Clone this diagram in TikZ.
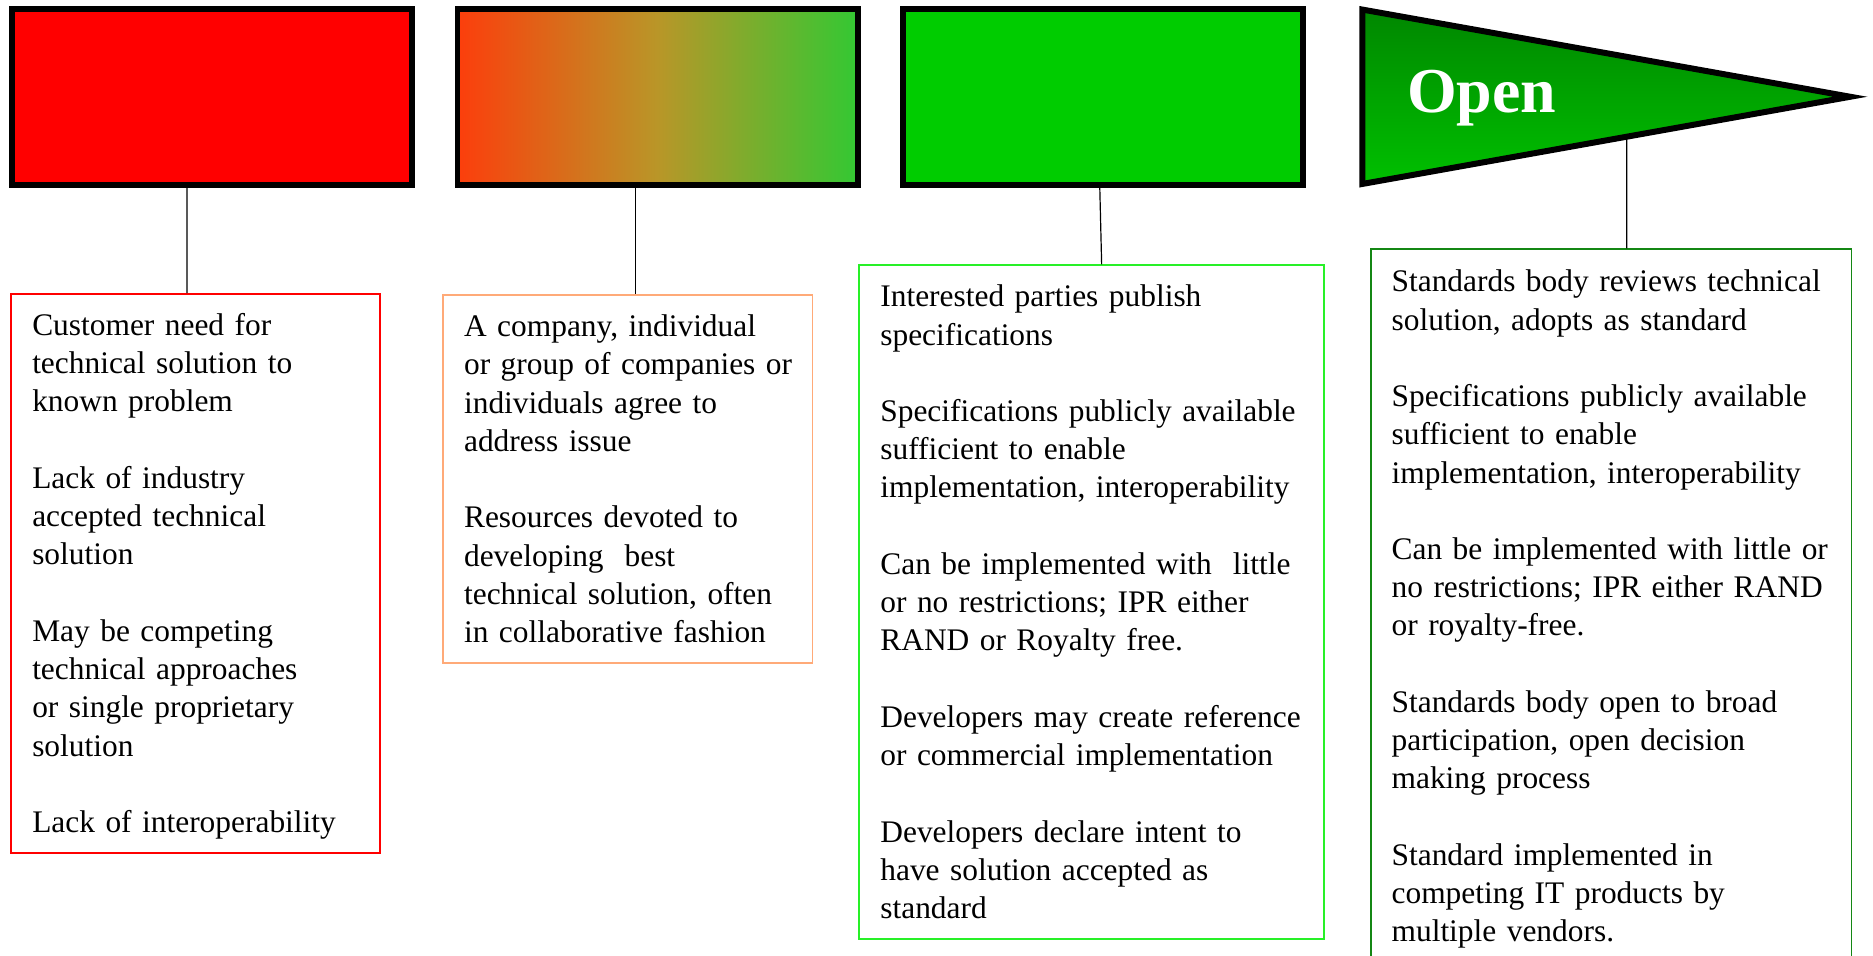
\documentclass[tikz,border=0pt]{standalone}
\usepackage{fontspec}
\setmainfont{Liberation Serif}
\usetikzlibrary{positioning}

\definecolor{stagered}{RGB}{255,0,0}
\definecolor{stageorange}{RGB}{252,62,12}
\definecolor{stagemid}{RGB}{185,150,40}
\definecolor{stagelime}{RGB}{51,200,51}
\definecolor{stagegreen}{RGB}{0,204,0}
\definecolor{flagtop}{RGB}{0,135,0}
\definecolor{flagbottom}{RGB}{0,192,0}
\definecolor{peach}{RGB}{255,170,120}
\definecolor{brightgreen}{RGB}{40,240,40}
\definecolor{forest}{RGB}{20,135,20}

\newcommand{\blankline}{\\[32pt]}

\begin{document}
\begin{tikzpicture}[x=1pt,y=-1pt,node distance=373pt,on grid]
  \tikzstyle{stage}=[draw=black,line width=5pt,minimum width=335pt,minimum height=147.5pt,inner sep=0pt]
  \tikzstyle{notes}=[draw,line width=1.2pt,align=left,inner xsep=17.5pt,inner ysep=0pt,
    font=\fontsize{26.3}{32}\selectfont,
    execute at begin node={\rightskip=0pt plus 1fil minus 30pt\rule{0pt}{27.4pt}},
    execute at end node=\strut]
  \tikzstyle{link}=[line width=1pt]

  \path[use as bounding box,clip] (0,0) rectangle (1568,800);

  % the three stage boxes
  \node[stage,fill=stagered] (need) at (177.5,81.25) {};
  \node[stage,left color=stageorange,right color=stagelime,middle color=stagemid] (work) [right of=need] {};
  \node[stage,fill=stagegreen] (publish) [right of=work] {};

  % pennant
  \draw[line width=5pt,top color=flagtop,bottom color=flagbottom]
    (1140.5,8) -- (1549,81) -- coordinate[pos=0.458] (flagfoot) (1140.5,154) -- cycle;
  \node[anchor=base west,text=white,font=\fontsize{53.5}{60}\selectfont\bfseries] (open) at (1174.5,94.3) {Open};

  % notes under each stage
  \node[notes,draw=stagered,text width=273.2pt,inner xsep=17.8pt,minimum height=468pt] (needtext) at (163.6,480)
    {Customer need for\\technical solution to\\known problem\blankline
     Lack of industry\\accepted technical\\solution\blankline
     May be competing\\technical approaches\\or single proprietary\\solution\blankline
     Lack of interoperability};
  \node[notes,draw=peach,text width=274pt,minimum height=308pt] (worktext) at (525.5,401)
    {A company, individual\\or group of companies or\\individuals agree to\\address issue\blankline
     Resources devoted to\\developing\ \ best\\technical solution, often\\in collaborative fashion};
  \node[notes,draw=brightgreen,text width=353.5pt,inner xsep=18pt,minimum height=564pt] (publishtext) at (913.75,504)
    {Interested parties publish\\specifications\blankline
     Specifications publicly available\\sufficient to enable\\implementation, interoperability\blankline
     Can be implemented with\ \ little\\or no restrictions; IPR either\\RAND or Royalty free.\blankline
     Developers may create reference\\or commercial implementation\blankline
     Developers declare intent to\\have solution accepted as\\standard};
  \node[notes,draw=forest,text width=367.8pt,inner xsep=17.2pt,minimum height=598pt] (standardtext) at (1348.9,507.5)
    {Standards body reviews technical\\solution, adopts as standard\blankline
     Specifications publicly available\\sufficient to enable\\implementation, interoperability\blankline
     Can be implemented with little or\\no restrictions; IPR either RAND\\or royalty-free.\blankline
     Standards body open to broad\\participation, open decision\\making process\blankline
     Standard implemented in\\competing IT products by\\multiple vendors.};

  \draw[link] ([xshift=-21pt]need.south) -- ([xshift=-7pt]needtext.north);
  \draw[link] ([xshift=-18.5pt]work.south) -- ([xshift=6.5pt]worktext.north);
  \draw[link] ([xshift=-2.8pt]publish.south) -- ([xshift=8.5pt]publishtext.north);
  \draw[link] (flagfoot) -- ([xshift=13pt]standardtext.north);
\end{tikzpicture}
\end{document}
